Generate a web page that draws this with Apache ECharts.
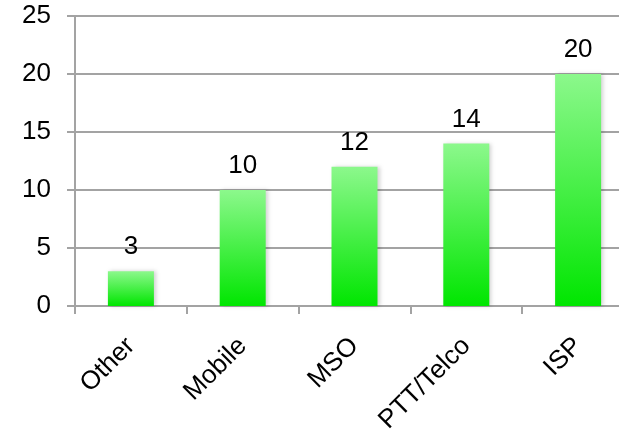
<!DOCTYPE html>
<html><head><meta charset="utf-8">
<script src="https://cdn.jsdelivr.net/npm/echarts@6/dist/echarts.min.js"></script>
<style>html,body{margin:0;padding:0;background:#fff;overflow:hidden}#c{width:619px;height:430px}</style>
</head><body><div id="c"></div>
<script>
const categories = ["Other", "Mobile", "MSO", "PTT/Telco", "ISP"];
const values = [3, 10, 12, 14, 20];
const yTicks = [0, 5, 10, 15, 20, 25];

const FONT = "'Liberation Sans', Arial, Helvetica, sans-serif";
const chart = echarts.init(document.getElementById('c'), null, {renderer: 'canvas'});
chart.setOption({
  animation: false,
  grid: {left: 75, top: 16, width: 559, height: 290, containLabel: false, outerBoundsMode: 'none'},
  xAxis: {
    type: 'category',
    data: categories,
    axisLine: {lineStyle: {color: '#a3a3a3', width: 2}},
    axisTick: {show: true, length: 8, inside: false, lineStyle: {color: '#a3a3a3', width: 2}},
    axisLabel: {rotate: 45, margin: 36, color: '#000', fontSize: 26, fontFamily: FONT, interval: 0}
  },
  yAxis: {
    type: 'value',
    min: yTicks[0], max: yTicks[yTicks.length - 1], interval: 5,
    axisLine: {show: true, lineStyle: {color: '#a3a3a3', width: 2}},
    axisTick: {show: true, length: 8, lineStyle: {color: '#a3a3a3', width: 2}},
    splitLine: {show: true, lineStyle: {color: '#a3a3a3', width: 2}},
    axisLabel: {margin: 24, color: '#000', fontSize: 26, fontFamily: FONT}
  },
  series: [{
    type: 'bar',
    data: values,
    barWidth: 46,
    itemStyle: {
      color: new echarts.graphic.LinearGradient(0, 0, 0, 1, [
        {offset: 0, color: '#8cf88c'},
        {offset: 1, color: '#00e600'}
      ]),
      shadowColor: 'rgba(0,0,0,0.18)', shadowBlur: 4, shadowOffsetX: 2
    },
    label: {show: true, position: 'top', distance: 11, color: '#000', fontSize: 26, fontFamily: FONT}
  }]
});
</script></body></html>
